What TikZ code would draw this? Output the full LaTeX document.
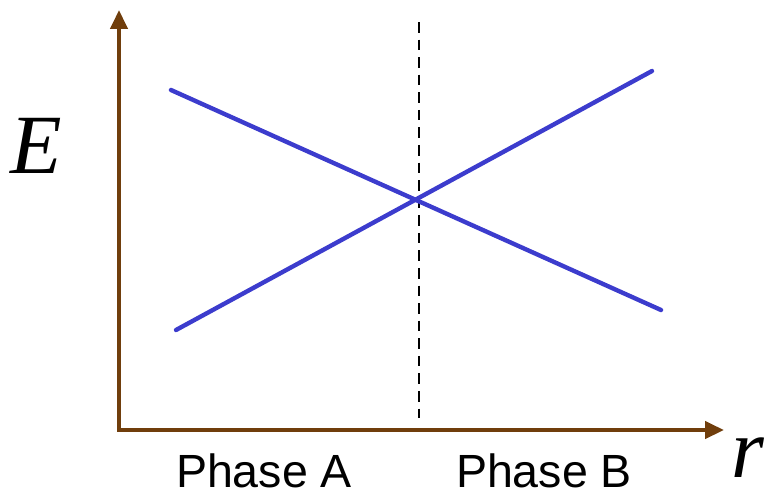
\documentclass[tikz,border=0pt]{standalone}
\usepackage{fontspec}
\setmainfont{Liberation Sans}
\newfontfamily\pdserif{Liberation Serif}
\usetikzlibrary{arrows.meta}
\definecolor{PdBrown}{RGB}{112,62,12}
\definecolor{PdBlue}{RGB}{60,60,205}
\tikzset{
  pd/axis/.style={{Triangle[length=0.38cm,width=0.34cm]}-{Triangle[length=0.38cm,width=0.34cm]}, line width=2.5pt, draw=PdBrown, line join=miter},
  pd/level/.style={line width=2.5pt, draw=PdBlue, line cap=round},
  pd/boundary/.style={line width=1.1pt, draw=black, dash pattern=on 6pt off 4pt},
  pd/axislabel/.style={font=\pdserif\itshape\fontsize{48}{52}\selectfont, text=black},
  pd/phase/.style={font=\fontsize{26.5}{30}\selectfont, text=black}
}

\begin{document}
\begin{tikzpicture}[x=0.02cm,y=-0.02cm]
  \useasboundingbox (0,0) rectangle (770,497);
  % axes
  \coordinate (origin) at (119,430);
  \coordinate (ytop) at (119,10);
  \coordinate (xend) at (724,430);
  \draw[pd/axis] (ytop) -- (origin) -- (xend);
  \node[pd/axislabel] (elabel) at (36,146) {E};
  \node[pd/axislabel] (rlabel) at (748,458) {r};
  % phase boundary
  \coordinate (btop) at (419,22);
  \coordinate (bbot) at (419,418);
  \draw[pd/boundary] (btop) -- (bbot);
  % energy lines
  \coordinate (a1) at (171,90);
  \coordinate (a2) at (661,310);
  \coordinate (b1) at (176,330);
  \coordinate (b2) at (652,71);
  \draw[pd/level] (a1) -- (a2);
  \draw[pd/level] (b1) -- (b2);
  \node[pd/phase] (phaseA) at (264,471) {Phase A};
  \node[pd/phase] (phaseB) at (544,471) {Phase B};
\end{tikzpicture}
\end{document}
